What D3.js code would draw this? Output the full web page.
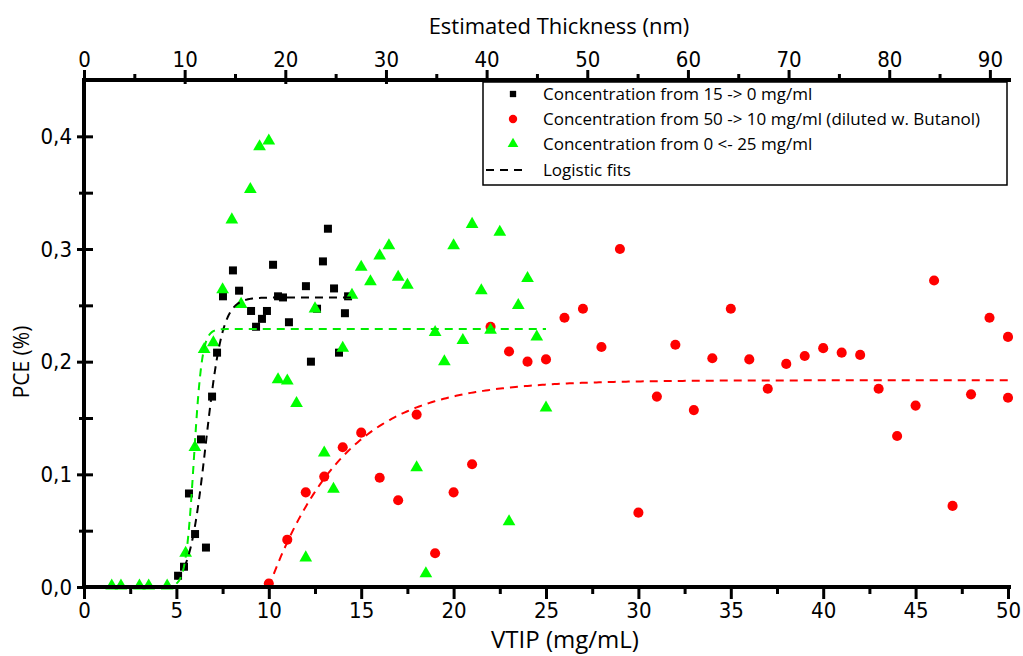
<!DOCTYPE html>
<html><head><meta charset="utf-8">
<script src="https://cdn.jsdelivr.net/npm/d3@7"></script>
<style>
html,body{margin:0;padding:0;background:#fff;}
svg text{font-family:"Open Sans",sans-serif;}
.tick-lab{font-family:"Liberation Sans Narrow","DejaVu Sans Condensed","Open Sans",sans-serif;}
</style></head>
<body>
<svg id="chart" width="1023" height="656"></svg>
<script>
// ---- data ----
const blackVTIP = [5.09,5.41,5.68,6.01,6.33,6.60,6.93,7.20,7.52,8.06,8.39,9.04,9.31,9.63,9.90,10.23,10.50,10.77,11.09,12.01,12.28,12.61,12.93,13.20,13.53,13.80,14.12,14.29];
const blackPCE  = [0.010,0.018,0.083,0.047,0.131,0.035,0.169,0.208,0.258,0.281,0.263,0.245,0.231,0.238,0.245,0.286,0.258,0.257,0.235,0.267,0.200,0.247,0.289,0.318,0.265,0.208,0.243,0.258];

const redVTIP = [10,11,12,13,14,15,16,17,18,19,20,21,22,23,24,25,26,27,28,29,30,31,32,33,34,35,36,37,38,39,40,41,42,43,44,45,46,47,48,49,50,50];
const redPCE  = [0.003,0.042,0.084,0.098,0.124,0.137,0.097,0.077,0.153,0.030,0.084,0.109,0.231,0.209,0.200,0.202,0.239,0.247,0.213,0.300,0.066,0.169,0.215,0.157,0.203,0.247,0.202,0.176,0.198,0.205,0.212,0.208,0.206,0.176,0.134,0.161,0.272,0.072,0.171,0.239,0.222,0.168];

const greenVTIP = [1.5,2,3,3.5,4.5,5.5,6,6.5,7,7.5,8,8.5,9,9.5,10,10.5,11,11.5,12,12.5,13,13.5,14,14.5,15,15.5,16,16.5,17,17.5,18,18.5,19,19.5,20,20.5,21,21.5,22,22.5,23,23.5,24,24.5,25];
const greenPCE  = [0.001,0.001,0.001,0.001,0.001,0.030,0.124,0.211,0.217,0.264,0.326,0.251,0.353,0.391,0.396,0.184,0.183,0.163,0.026,0.247,0.119,0.087,0.212,0.259,0.284,0.271,0.294,0.303,0.275,0.268,0.106,0.012,0.226,0.200,0.303,0.219,0.322,0.263,0.228,0.315,0.058,0.250,0.274,0.222,0.159];

// logistic fit parameters: y = A1 + (A2-A1)/(1+exp(-(x-x0)/w)), drawn over [xFrom, xTo]
const fitNames = ["black","red","green"];
const fitA1    = [0, -2, 0];
const fitA2    = [0.257, 0.1835, 0.229];
const fitX0    = [6.6, 0.92, 5.95];
const fitW     = [0.45, 3.8, 0.22];
const fitFrom  = [5, 10, 5];
const fitTo    = [14.5, 50, 25];

const xTicks = [0,5,10,15,20,25,30,35,40,45,50];
const yTicks = [0,0.1,0.2,0.3,0.4];
const topTicks = [0,10,20,30,40,50,60,70,80,90];
const legendLabels = ["Concentration from 15 -> 0 mg/ml","Concentration from 50 -> 10 mg/ml (diluted w. Butanol)","Concentration from 0 <- 25 mg/ml","Logistic fits"];

// ---- layout ----
const L=84, R=1008, T=80, B=587;
const svg = d3.select("#chart");
const x = d3.scaleLinear().domain([0,50]).range([L,R]);
const xt = d3.scaleLinear().domain([0,91.8]).range([L,R]);
const y = d3.scaleLinear().domain([0,0.45]).range([B,T]);
const fmt = d => d3.format(".1f")(d).replace(".",",");

const colors = {black:"#000000", red:"#ff0000", green:"#00ff00"};
const fitColors = {black:"#000000", red:"#ff0000", green:"#00ee00"};

// markers
function drawSeries(xs, ys, sym, size, color){
  svg.append("g").selectAll("path").data(xs.map((v,i)=>[v,ys[i]])).join("path")
    .attr("d", d3.symbol().type(sym).size(size))
    .attr("transform", d=>`translate(${x(d[0])},${y(d[1])})`)
    .attr("fill", color);
}
drawSeries(blackVTIP, blackPCE, d3.symbolSquare, 64, colors.black);
drawSeries(redVTIP, redPCE, d3.symbolCircle, 80, colors.red);
drawSeries(greenVTIP, greenPCE, d3.symbolTriangle, 70, colors.green);

// fits
fitNames.forEach((n,i)=>{
  const pts = d3.range(fitFrom[i], fitTo[i]+1e-9, (fitTo[i]-fitFrom[i])/300).map(v=>[v, fitA1[i]+(fitA2[i]-fitA1[i])/(1+Math.exp(-(v-fitX0[i])/fitW[i]))]);
  svg.append("path").datum(pts)
    .attr("d", d3.line().x(d=>x(d[0])).y(d=>y(d[1])))
    .attr("fill","none").attr("stroke",fitColors[n]).attr("stroke-width",2)
    .attr("stroke-dasharray","8,6");
});

// axes
const axW = 4;
// bottom
const gB = svg.append("g").attr("transform",`translate(0,${B})`)
  .call(d3.axisBottom(x).tickValues(xTicks).tickSize(12).tickFormat(d3.format("d")));
gB.select(".domain").remove();
svg.append("g").attr("transform",`translate(0,${B})`)
  .call(d3.axisBottom(x).tickValues(d3.range(2.5,50,5)).tickSize(7).tickFormat(""))
  .select(".domain").remove();
// left
const gL = svg.append("g").attr("transform",`translate(${L},0)`)
  .call(d3.axisLeft(y).tickValues(yTicks).tickSizeInner(7).tickSizeOuter(0).tickFormat(fmt).tickPadding(5));
gL.select(".domain").remove();
gL.selectAll(".tick line").attr("x2",9).attr("x1",-7);
svg.append("g").attr("transform",`translate(${L},0)`)
  .call(d3.axisLeft(y).tickValues([0.05,0.15,0.25,0.35]).tickSize(0).tickFormat(""))
  .call(g=>g.select(".domain").remove())
  .selectAll(".tick line").attr("x1",-5).attr("x2",9);
// top
const gT = svg.append("g").attr("transform",`translate(0,${T})`)
  .call(d3.axisTop(xt).tickValues(topTicks).tickSize(10).tickFormat(d3.format("d")));
gT.select(".domain").remove();
gT.selectAll(".tick line").attr("y2",-10).attr("y1",4);
svg.append("g").attr("transform",`translate(0,${T})`)
  .call(d3.axisTop(xt).tickValues(d3.range(5,91,10)).tickSize(6).tickFormat(""))
  .select(".domain").remove();

svg.selectAll(".tick line").attr("stroke","#000").attr("stroke-width",3);
svg.selectAll(".tick text").attr("class","tick-lab").attr("font-size",22).attr("fill","#000");

// axis lines
svg.append("line").attr("x1",L-2).attr("x2",R+3).attr("y1",B).attr("y2",B).attr("stroke","#000").attr("stroke-width",axW);
svg.append("line").attr("x1",L-2).attr("x2",R+3).attr("y1",T).attr("y2",T).attr("stroke","#000").attr("stroke-width",axW);
svg.append("line").attr("x1",L).attr("x2",L).attr("y1",T-2).attr("y2",B+2).attr("stroke","#000").attr("stroke-width",axW);

// titles
svg.append("text").attr("x",565).attr("y",648).attr("text-anchor","middle").attr("font-size",24).text("VTIP (mg/mL)");
svg.append("text").attr("x",559).attr("y",34).attr("text-anchor","middle").attr("font-size",22).text("Estimated Thickness (nm)");
svg.append("text").attr("transform",`translate(29,362) rotate(-90)`).attr("text-anchor","middle").attr("font-size",21).text("PCE (%)");

// legend
const lg = svg.append("g");
lg.append("rect").attr("x",483).attr("y",82).attr("width",524).attr("height",103).attr("fill","#fff").attr("stroke","#000").attr("stroke-width",1.5);
const rowsY = [94,119,144,170];
const syms = [d3.symbolSquare, d3.symbolCircle, d3.symbolTriangle];
const symSizes = [40,55,50];
const symCols = [colors.black, colors.red, colors.green];
legendLabels.forEach((t,i)=>{
  if(i<3){
    lg.append("path").attr("d",d3.symbol().type(syms[i]).size(symSizes[i])).attr("transform",`translate(513,${rowsY[i]})`).attr("fill",symCols[i]);
  } else {
    lg.append("line").attr("x1",486).attr("x2",528).attr("y1",rowsY[i]).attr("y2",rowsY[i]).attr("stroke","#000").attr("stroke-width",2).attr("stroke-dasharray","8,6");
  }
  lg.append("text").attr("x",543).attr("y",rowsY[i]+6).attr("font-size",17).text(t);
});
</script>
</body></html>
